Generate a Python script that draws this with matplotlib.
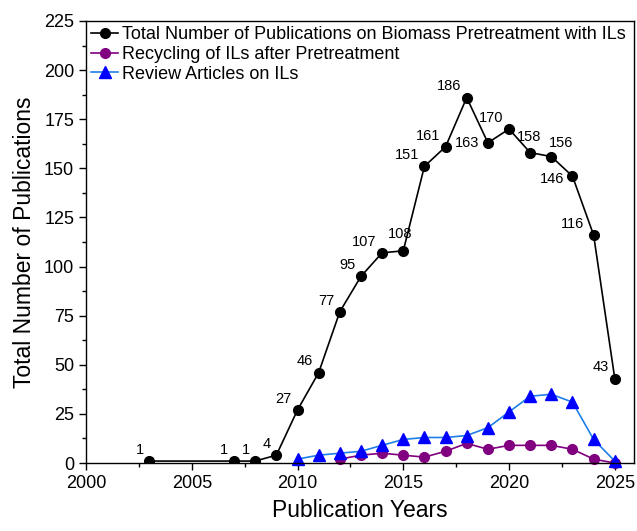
import matplotlib
matplotlib.use('Agg')
import matplotlib.pyplot as plt
from matplotlib.ticker import MultipleLocator

plt.rcParams['font.family'] = ['Liberation Sans', 'DejaVu Sans']

# total publications on biomass pretreatment with ILs
years_total = [2003, 2007, 2008, 2009, 2010, 2011, 2012, 2013, 2014, 2015,
               2016, 2017, 2018, 2019, 2020, 2021, 2022, 2023, 2024, 2025]
total = [1, 1, 1, 4, 27, 46, 77, 95, 107, 108,
         151, 161, 186, 163, 170, 158, 156, 146, 116, 43]

# recycling of ILs after pretreatment
years_recycle = [2012, 2013, 2014, 2015, 2016, 2017, 2018, 2019, 2020,
                 2021, 2022, 2023, 2024, 2025]
recycle = [2, 4, 5, 4, 3, 6, 10, 7, 9, 9, 9, 7, 2, 0]

# review articles on ILs
years_review = [2010, 2011, 2012, 2013, 2014, 2015, 2016, 2017, 2018,
                2019, 2020, 2021, 2022, 2023, 2024, 2025]
review = [2, 4, 5, 6, 9, 12, 13, 13, 14, 18, 26, 34, 35, 31, 12, 1]

# label offsets (points) and alignment for the value labels
label_pos = {
    2015: (-2, 7, 'center', 'bottom'),
    2019: (-6, 0, 'right', 'center'),
    2021: (-1, 6, 'center', 'bottom'),
    2022: (-2, 5, 'left', 'bottom'),
    2023: (-6, -2, 'right', 'center'),
    2024: (-7, 3, 'right', 'bottom'),
}

fig = plt.figure(figsize=(6.37, 5.31), dpi=100)
ax = fig.add_axes([0.135, 0.128, 0.860, 0.8325])

ax.plot(years_total, total, '-o', color='black', lw=1.2, ms=7,
        label='Total Number of Publications on Biomass Pretreatment with ILs', zorder=3)
ax.plot(years_recycle, recycle, '-o', color='#800080', lw=1.2, ms=7,
        label='Recycling of ILs after Pretreatment', zorder=2, clip_on=False)
ax.plot(years_review, review, '-^', color='#1f7fe8', mfc='#0000ff', mec='#0000ff',
        lw=1.2, ms=8, label='Review Articles on ILs', zorder=2, clip_on=False)

for x, y in zip(years_total, total):
    dx, dy, ha, va = label_pos.get(x, (-4, 3, 'right', 'bottom'))
    ax.annotate(str(y), (x, y), xytext=(dx, dy), textcoords='offset points',
                ha=ha, va=va, fontsize=10.5)

ax.set_xlim(2000, 2025.9)
ax.set_ylim(0, 225)
ax.xaxis.set_major_locator(MultipleLocator(5))
ax.xaxis.set_minor_locator(MultipleLocator(2.5))
ax.yaxis.set_major_locator(MultipleLocator(25))
ax.yaxis.set_minor_locator(MultipleLocator(12.5))
ax.tick_params(which='major', direction='out', length=5, width=1, labelsize=13)
ax.tick_params(which='minor', direction='out', length=3, width=1)
for s in ax.spines.values():
    s.set_linewidth(1)

ax.set_xlabel('Publication Years', fontsize=16.5, labelpad=5)
ax.set_ylabel('Total Number of Publications', fontsize=16.5, labelpad=6)

ax.legend(loc='upper left', frameon=False, fontsize=13, handlelength=1.45,
          handletextpad=0.22, labelspacing=0.15, borderaxespad=0.05,
          borderpad=0.25)

fig.savefig('out.png', dpi=100)
